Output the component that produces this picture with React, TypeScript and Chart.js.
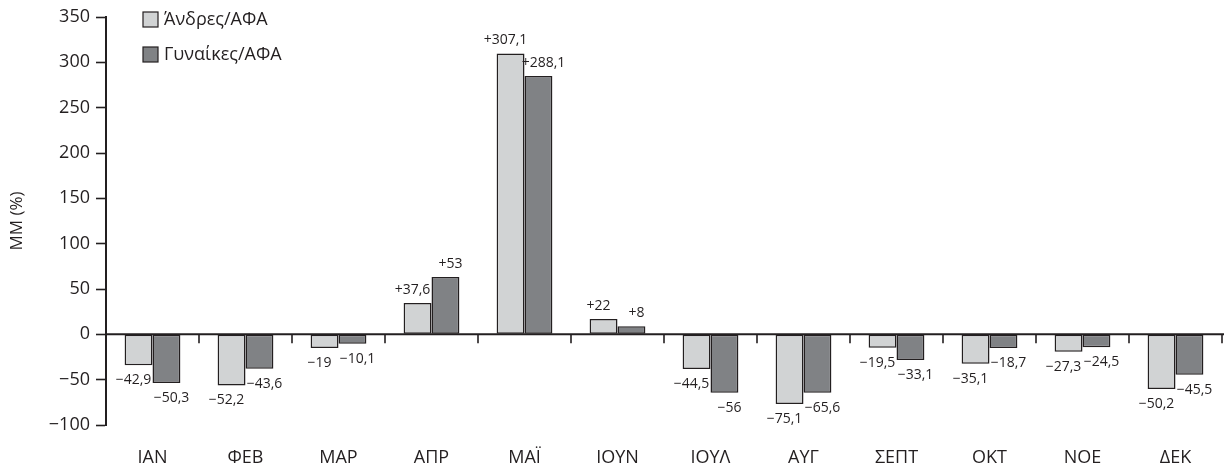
import React, { useEffect, useRef } from "react";
import { Chart, registerables } from "chart.js";

Chart.register(...registerables);

const categories = ["ΙΑΝ", "ΦΕΒ", "ΜΑΡ", "ΑΠΡ", "ΜΑΪ", "ΙΟΥΝ", "ΙΟΥΛ", "ΑΥΓ", "ΣΕΠΤ", "ΟΚΤ", "ΝΟΕ", "ΔΕΚ"];
const seriesNames = ["Άνδρες/ΑΦΑ", "Γυναίκες/ΑΦΑ"];
// bar heights as drawn in the picture
const menValues = [-34, -56.3, -15.1, 34.5, 309.8, 16.9, -38.3, -76.9, -14.8, -32.4, -19.2, -60.4];
const womenValues = [-53.7, -37.9, -10.3, 63.2, 284.8, 8.8, -64.4, -64.3, -28.4, -15.1, -14.3, -44.5];
// printed value labels
const menLabels = ["−42,9", "−52,2", "−19", "+37,6", "+307,1", "+22", "−44,5", "−75,1", "−19,5", "−35,1", "−27,3", "−50,2"];
const womenLabels = ["−50,3", "−43,6", "−10,1", "+53", "+288,1", "+8", "−56", "−65,6", "−33,1", "−18,7", "−24,5", "−45,5"];
const yTicks = [350, 300, 250, 200, 150, 100, 50, 0, -50, -100];
const yTitle = "ΜΜ (%)";

const FONT = "'Open Sans', 'Noto Sans', sans-serif";
const INK = "#231f20";
const LIGHT = "#d1d3d4";
const DARK = "#808285";

const labelsPlugin = {
  id: "valueLabels",
  afterDatasetsDraw(chart: any) {
    const ctx = chart.ctx;
    ctx.save();
    ctx.font = `14px ${FONT}`;
    ctx.fillStyle = INK;
    ctx.textBaseline = "middle";
    const lists = [menLabels, womenLabels];
    chart.data.datasets.forEach((ds: any, di: number) => {
      const meta = chart.getDatasetMeta(di);
      meta.data.forEach((bar: any, i: number) => {
        const v = ds.data[i];
        const txt = lists[di][i];
        const dx = di === 0 ? -5 : 5;
        const y = v >= 0 ? bar.y - 13 : bar.y + 15;
        ctx.textAlign = "center";
        ctx.fillText(txt, bar.x + dx, y);
      });
    });
    ctx.restore();
  },
};

const axisPlugin = {
  id: "zeroAxis",
  afterDatasetsDraw(chart: any) {
    const ctx = chart.ctx;
    const x = chart.scales.x;
    const y = chart.scales.y;
    const y0 = y.getPixelForValue(0);
    const area = chart.chartArea;
    ctx.save();
    ctx.strokeStyle = INK;
    ctx.lineWidth = 2;
    ctx.beginPath();
    ctx.moveTo(area.left, y0);
    ctx.lineTo(chart.width, y0);
    ctx.stroke();
    const n = categories.length;
    const step = (x.getPixelForValue(n - 1) - x.getPixelForValue(0)) / (n - 1);
    ctx.lineWidth = 1.6;
    for (let i = 0; i < n; i++) {
      const px = x.getPixelForValue(i) + step / 2;
      ctx.beginPath();
      ctx.moveTo(px, y0);
      ctx.lineTo(px, y0 + 9);
      ctx.stroke();
    }
    ctx.restore();
  },
};

const legendPlugin = {
  id: "customLegend",
  afterDraw(chart: any) {
    const ctx = chart.ctx;
    ctx.save();
    ctx.font = `18px ${FONT}`;
    ctx.textBaseline = "middle";
    ctx.textAlign = "left";
    chart.data.datasets.forEach((ds: any, i: number) => {
      const bx = 143;
      const by = 12 + i * 35;
      ctx.fillStyle = ds.backgroundColor;
      ctx.fillRect(bx, by, 15, 15);
      ctx.strokeStyle = INK;
      ctx.lineWidth = 1.2;
      ctx.strokeRect(bx, by, 15, 15);
      ctx.fillStyle = INK;
      ctx.fillText(ds.label, 164, by + 8);
    });
    ctx.restore();
  },
};

export default function App() {
  const ref = useRef<HTMLCanvasElement>(null);
  useEffect(() => {
    document.body.style.margin = "0";
    const chart = new Chart(ref.current as HTMLCanvasElement, {
      type: "bar",
      data: {
        labels: categories,
        datasets: [
          {
            label: seriesNames[0],
            data: menValues,
            backgroundColor: LIGHT,
            borderColor: INK,
            borderWidth: 1.5,
            borderSkipped: false,
            barPercentage: 1,
            categoryPercentage: 0.6,
          },
          {
            label: seriesNames[1],
            data: womenValues,
            backgroundColor: DARK,
            borderColor: INK,
            borderWidth: 1.5,
            borderSkipped: false,
            barPercentage: 1,
            categoryPercentage: 0.6,
          },
        ],
      },
      options: {
        animation: false,
        responsive: false,
        maintainAspectRatio: false,
        layout: { padding: { top: 17, right: 2, left: 0, bottom: 0 } },
        plugins: { legend: { display: false }, tooltip: { enabled: false } },
        scales: {
          x: {
            afterFit(scale: any) {
              scale.height = 46;
            },
            grid: { display: false, drawTicks: false },
            border: { display: false },
            ticks: { color: INK, font: { family: FONT, size: 18 }, padding: 22, maxRotation: 0 },
          },
          y: {
            min: -100,
            max: 350,
            afterFit(scale: any) {
              scale.width = 106;
            },
            afterBuildTicks(scale: any) {
              scale.ticks = yTicks.map((v) => ({ value: v }));
            },
            grid: { drawOnChartArea: false, drawTicks: true, tickLength: 10, tickColor: INK, tickWidth: 1.6 },
            border: { display: true, color: INK, width: 2 },
            ticks: {
              color: INK,
              font: { family: FONT, size: 18 },
              padding: 6,
              callback: (v: any) => (Number(v) < 0 ? "−" + Math.abs(Number(v)) : String(v)),
            },
            title: {
              display: true,
              text: yTitle,
              color: INK,
              font: { family: FONT, size: 17 },
              padding: { top: 7, bottom: 0 },
            },
          },
        },
      },
      plugins: [axisPlugin, labelsPlugin, legendPlugin],
    });
    return () => chart.destroy();
  }, []);
  return (
    <div style={{ width: 1224, height: 471 }}>
      <canvas ref={ref} width={1224} height={471} style={{ display: "block" }} />
    </div>
  );
}
